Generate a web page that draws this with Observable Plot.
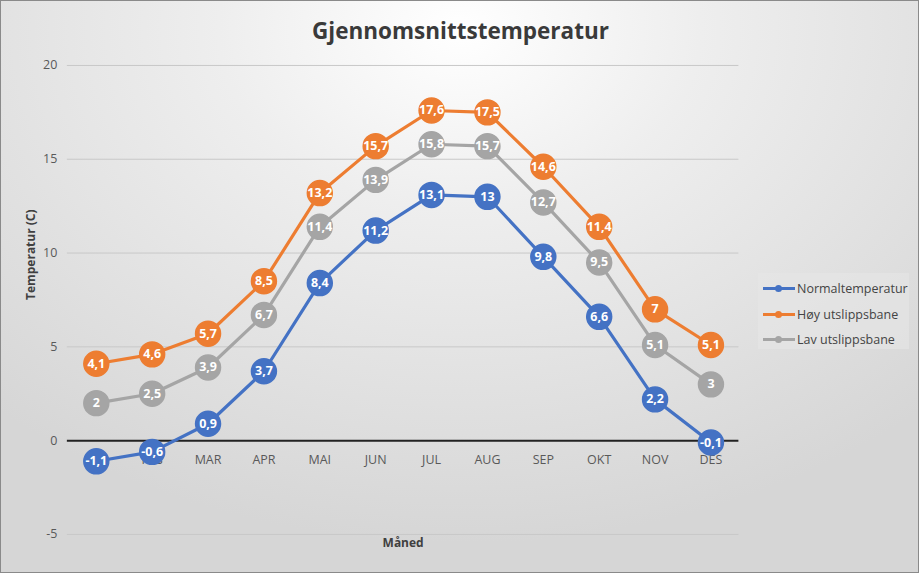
<!DOCTYPE html>
<html>
<head>
<meta charset="utf-8">
<script src="https://cdn.jsdelivr.net/npm/d3@7"></script>
<script src="https://cdn.jsdelivr.net/npm/@observablehq/plot@0.6"></script>
<style>
  html, body { margin: 0; padding: 0; }
  body { width: 919px; height: 573px; overflow: hidden; font-family: "Open Sans", "Liberation Sans", sans-serif; }
  #wrap {
    position: relative; width: 919px; height: 573px; box-sizing: border-box;
    background: radial-gradient(ellipse 75% 90% at 50% 5%, #ffffff 0%, #eeeeee 35%, #d6d6d6 100%);
    border: 1px solid #8a8a8a;
  }
  #title {
    position: absolute; left: 0; top: 14px; width: 919px; text-align: center;
    font-size: 22.5px; font-weight: bold; color: #3a3a3a;
  }
  #chart { position: absolute; left: -1px; top: 49px; }
  #legend {
    position: absolute; left: 757px; top: 272px; width: 151px; height: 76px;
    background: rgba(230,230,230,0.6); box-sizing: border-box; padding-top: 3px;
  }
  .item { display: flex; align-items: center; height: 25.5px; font-size: 12.5px; color: #444; }
  .sym { position: relative; width: 32px; height: 10px; margin-left: 5px; margin-right: 2px; }
  .sym .ln { position: absolute; left: 0; right: 0; top: 3.5px; height: 3px; }
  .sym .dt { position: absolute; left: 12px; top: 1.5px; width: 7px; height: 7px; border-radius: 50%; }
</style>
</head>
<body>
<div id="wrap">
  <div id="title">Gjennomsnittstemperatur</div>
  <div id="chart"></div>
  <div id="legend"></div>
</div>
<script>
const months = ["JAN","FEB","MAR","APR","MAI","JUN","JUL","AUG","SEP","OKT","NOV","DES"];
const seriesNames = ["Normaltemperatur","Høy utslippsbane","Lav utslippsbane"];
const seriesColors = ["#4472C4","#ED7D31","#A5A5A5"];
const normal = [-1.1, -0.6, 0.9, 3.7, 8.4, 11.2, 13.1, 13, 9.8, 6.6, 2.2, -0.1];
const hoy    = [4.1, 4.6, 5.7, 8.5, 13.2, 15.7, 17.6, 17.5, 14.6, 11.4, 7, 5.1];
const lav    = [2, 2.5, 3.9, 6.7, 11.4, 13.9, 15.8, 15.7, 12.7, 9.5, 5.1, 3];
const yTicks = [-5, 0, 5, 10, 15, 20];

const allValues = [normal, hoy, lav];
const data = [];
allValues.forEach((vals, si) => {
  vals.forEach((v, i) => data.push({series: seriesNames[si], month: months[i], value: v}));
});
const fmt = v => String(v).replace(".", ",");

const marks = [
  Plot.ruleY(yTicks.filter(t => t !== 0), {stroke: "#c8c8c8", strokeWidth: 1}),
  Plot.ruleY([0], {stroke: "#222", strokeWidth: 2}),
  Plot.text(months, {x: d => d, y: 0, dy: 19, fill: "#595959", fontSize: 12.5}),
  Plot.text(["Måned"], {frameAnchor: "bottom", dy: 13, fill: "#404040", fontSize: 12, fontWeight: "bold"}),
  Plot.text(["Temperatur (C)"], {frameAnchor: "left", dx: -36, rotate: -90, fill: "#404040", fontSize: 12, fontWeight: "bold"}),
];
seriesNames.forEach((name, si) => {
  const d = data.filter(r => r.series === name);
  marks.push(Plot.line(d, {x: "month", y: "value", stroke: seriesColors[si], strokeWidth: 3.2}));
  marks.push(Plot.dot(d, {x: "month", y: "value", r: 12.5, fill: seriesColors[si], stroke: seriesColors[si]}));
  marks.push(Plot.text(d, {x: "month", y: "value", text: r => fmt(r.value), fill: "white", fontSize: 12.5, fontWeight: "bold"}));
});

const plot = Plot.plot({
  width: 920,
  height: 524,
  marginLeft: 67,
  marginRight: 180,
  marginTop: 15,
  marginBottom: 39,
  style: {background: "transparent", fontFamily: "'Open Sans', 'Liberation Sans', sans-serif", overflow: "visible"},
  x: {type: "point", domain: months, padding: 0.5, axis: null},
  y: {domain: [-5, 20], axis: null},
  marks: [
    Plot.axisY({ticks: yTicks, tickSize: 0, tickPadding: 10, fill: "#595959", fontSize: 12.5, label: null, tickFormat: d => String(d)}),
    ...marks
  ]
});
document.getElementById("chart").appendChild(plot);

const legend = document.getElementById("legend");
seriesNames.forEach((name, si) => {
  const it = document.createElement("div");
  it.className = "item";
  it.innerHTML = `<div class="sym"><div class="ln" style="background:${seriesColors[si]}"></div><div class="dt" style="background:${seriesColors[si]}"></div></div><span>${name}</span>`;
  legend.appendChild(it);
});
</script>
</body>
</html>
